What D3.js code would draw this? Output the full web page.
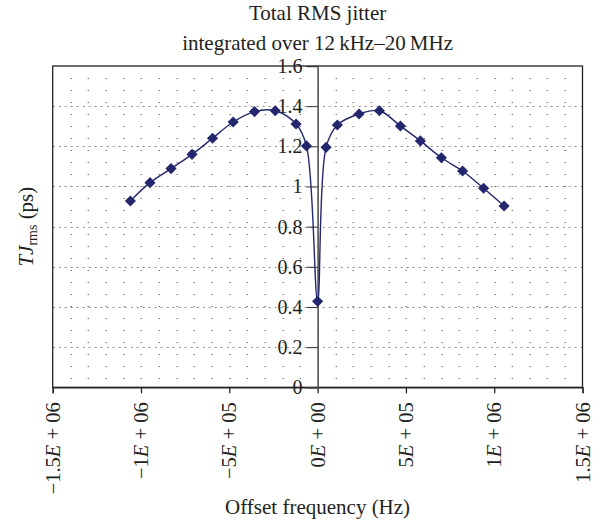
<!DOCTYPE html>
<html>
<head>
<meta charset="utf-8">
<script src="https://cdn.jsdelivr.net/npm/d3@7"></script>
<style>
  body { margin: 0; background: #fff; }
  text { font-family: "Liberation Serif", "DejaVu Serif", serif; fill: #231f20; }
</style>
</head>
<body>
<div id="chart"></div>
<script>
// data
let offsetHz = [-1.06e6, -9.49e5, -8.30e5, -7.11e5, -5.95e5, -4.78e5, -3.57e5, -2.40e5, -1.22e5, -6.3e4,
  0, 4.8e4, 1.12e5, 2.35e5, 3.50e5, 4.69e5, 5.82e5, 7.01e5, 8.21e5, 9.40e5, 1.056e6];
let jitterPs = [0.928, 1.019, 1.089, 1.160, 1.240, 1.321, 1.373, 1.377, 1.311, 1.202,
  0.428, 1.195, 1.306, 1.361, 1.377, 1.301, 1.227, 1.143, 1.077, 0.991, 0.903];

let xTicks = [-1.5e6, -1e6, -5e5, 0, 5e5, 1e6, 1.5e6];
let xTickLabels = ["−1.5E + 06", "−1E + 06", "−5E + 05", "0E + 00", "5E + 05", "1E + 06", "1.5E + 06"];
let yTicks = [0, 0.2, 0.4, 0.6, 0.8, 1, 1.2, 1.4, 1.6];
let yTickLabels = ["0", "0.2", "0.4", "0.6", "0.8", "1", "1.2", "1.4", "1.6"];

let svgWidth = 601;
let svgHeight = 520;
let margin = { top: 66, right: 18.5, bottom: 132.7, left: 52.7 };
let width = svgWidth - margin.left - margin.right;
let height = svgHeight - margin.top - margin.bottom;
let navy = "#24276e";

let svg = d3.select("#chart").append("svg")
  .attr("width", svgWidth)
  .attr("height", svgHeight);

let chartGroup = svg.append("g")
  .attr("transform", `translate(${margin.left}, ${margin.top})`);

let x = d3.scaleLinear().domain([-1.5e6, 1.5e6]).range([0, width]);
let y = d3.scaleLinear().domain([0, 1.6]).range([height, 0]);

// dotted background lattice
let latticeX = d3.range(-14e5, 14e5 + 1, 1e5);
let latticeY = d3.range(1, 27).map(k => 1.6 - k * 0.0598);
let dots = chartGroup.append("g");
latticeY.forEach(v => {
  dots.selectAll(null).data(latticeX).enter().append("rect")
    .attr("x", d => Math.round(x(d)))
    .attr("y", Math.round(y(v)))
    .attr("width", 1).attr("height", 1)
    .attr("fill", "#333");
});

// dashed major gridlines
chartGroup.append("g").selectAll("line")
  .data(yTicks.slice(1, -1))
  .enter().append("line")
  .attr("x1", 0).attr("x2", width)
  .attr("y1", d => Math.round(y(d)) + 0.5).attr("y2", d => Math.round(y(d)) + 0.5)
  .attr("stroke", "#8a8a8a")
  .attr("stroke-dasharray", "2,4");

// frame
chartGroup.append("rect")
  .attr("width", width).attr("height", height)
  .attr("fill", "none").attr("stroke", "#222").attr("stroke-width", 1.3);

// x axis along bottom
let bottomAxis = d3.axisBottom(x).tickValues(xTicks).tickSize(6).tickFormat("");
let xAxis = chartGroup.append("g")
  .attr("transform", `translate(0,${height})`)
  .call(bottomAxis);
xAxis.select(".domain").attr("stroke", "#222").attr("stroke-width", 1.3);
xAxis.selectAll(".tick line").attr("stroke", "#222").attr("stroke-width", 1.3);

// y axis at x = 0
let leftAxis = d3.axisLeft(y).tickValues(yTicks).tickSize(11).tickPadding(4)
  .tickFormat((d, i) => yTickLabels[i]);
let yAxis = chartGroup.append("g")
  .attr("transform", `translate(${x(0)},0)`)
  .call(leftAxis);
yAxis.select(".domain").attr("stroke", "#555").attr("stroke-width", 1.6);
yAxis.selectAll(".tick line").attr("stroke", "#333");
yAxis.selectAll(".tick text")
  .attr("font-size", 20)
  .attr("font-family", null)
  .attr("fill", "#231f20");

// rotated x tick labels
let xLabelGroup = chartGroup.append("g");
xTicks.forEach((v, i) => {
  let parts = xTickLabels[i].split("E");
  let t = xLabelGroup.append("text")
    .attr("transform", `translate(${x(v)},${height + 15}) rotate(-90)`)
    .attr("text-anchor", "end")
    .attr("dy", "0.35em")
    .attr("font-size", 20.5);
  t.append("tspan").text(parts[0]);
  t.append("tspan").attr("font-style", "italic").text("E");
  t.append("tspan").text(parts[1]);
});

// smoothed line + diamond markers
let pts = offsetHz.map((d, i) => [d, jitterPs[i]]);
let line = d3.line()
  .x(d => x(d[0]))
  .y(d => y(d[1]))
  .curve(d3.curveCatmullRom.alpha(0.5));

chartGroup.append("path")
  .datum(pts)
  .attr("d", line)
  .attr("fill", "none")
  .attr("stroke", navy)
  .attr("stroke-width", 1.4);

chartGroup.selectAll(".marker")
  .data(pts)
  .enter().append("path")
  .attr("class", "marker")
  .attr("d", d3.symbol(d3.symbolSquare, 62))
  .attr("transform", d => `translate(${x(d[0])},${y(d[1])}) rotate(45)`)
  .attr("fill", navy);

// titles
svg.append("text")
  .attr("x", margin.left + x(0)).attr("y", 20)
  .attr("text-anchor", "middle").attr("font-size", 21)
  .text("Total RMS jitter");
svg.append("text")
  .attr("x", margin.left + x(0)).attr("y", 50)
  .attr("text-anchor", "middle").attr("font-size", 21)
  .text("integrated over 12\u2009kHz\u201320\u2009MHz");

svg.append("text")
  .attr("x", margin.left + x(0)).attr("y", 514)
  .attr("text-anchor", "middle").attr("font-size", 21)
  .text("Offset frequency (Hz)");

let yTitle = svg.append("text")
  .attr("transform", `translate(33,${margin.top + height / 2}) rotate(-90)`)
  .attr("text-anchor", "middle")
  .attr("font-size", 21);
yTitle.append("tspan").attr("font-style", "italic").text("TJ");
yTitle.append("tspan").attr("font-size", 14).attr("dy", 4).text("rms");
yTitle.append("tspan").attr("dy", -4).text(" (ps)");
</script>
</body>
</html>
